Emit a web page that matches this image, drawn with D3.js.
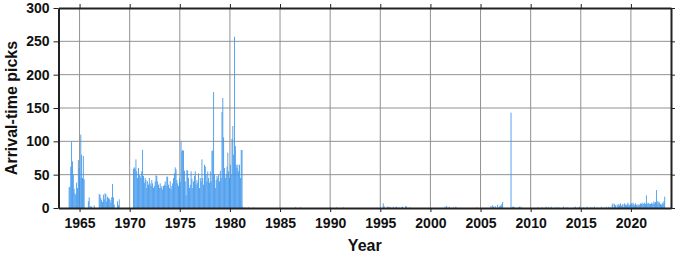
<!DOCTYPE html>
<html>
<head>
<meta charset="utf-8">
<script src="https://cdn.jsdelivr.net/npm/d3@7"></script>
<style>
  body { margin: 0; background: #fff; }
  text { font-family: "Liberation Sans", Arial, Helvetica, sans-serif; }
</style>
</head>
<body>
<div id="chart"></div>
<script>
// monthly arrival-time picks, one row of 12 months per year
var firstYear = 1963;

var picks1960s = [
    [0, 0, 0, 0, 0, 0, 0, 0, 0, 0, 0, 31],            // 1963
    [32, 62, 100, 70, 50, 29, 22, 20, 38, 30, 72, 60], // 1964
    [45, 110, 80, 45, 78, 43, 0, 0, 0, 0, 10, 16],    // 1965
    [0, 3, 2, 0, 0, 4, 0, 0, 0, 0, 0, 21],            // 1966
    [20, 15, 12, 9, 20, 13, 22, 21, 10, 17, 15, 14],  // 1967
    [12, 8, 16, 36, 16, 5, 0, 0, 0, 10, 4, 13],       // 1968
    [0, 0, 0, 0, 0, 0, 0, 0, 0, 0, 0, 0]              // 1969
];

var picks1970s = [
    [0, 0, 0, 0, 59, 61, 59, 73, 55, 45, 60, 50],      // 1970
    [48, 45, 55, 87, 48, 38, 45, 42, 30, 40, 35, 45],  // 1971
    [37, 33, 42, 37, 30, 33, 40, 49, 48, 40, 35, 30],  // 1972
    [37, 30, 33, 28, 33, 35, 40, 33, 47, 47, 35, 30],  // 1973
    [40, 28, 33, 37, 45, 52, 61, 58, 42, 37, 33, 45],  // 1974
    [39, 100, 85, 87, 86, 56, 40, 19, 57, 56, 45, 30], // 1975
    [35, 55, 44, 30, 40, 48, 55, 35, 42, 38, 52, 30],  // 1976
    [45, 40, 73, 45, 35, 65, 62, 50, 40, 55, 45, 38],  // 1977
    [55, 40, 86, 86, 174, 50, 30, 42, 48, 45, 50, 40], // 1978
    [56, 45, 144, 165, 106, 60, 45, 50, 62, 83, 55, 45] // 1979
];

var picks1980s = [
    [65, 50, 104, 123, 80, 257, 93, 65, 60, 65, 55, 65], // 1980
    [45, 87, 87, 2, 0, 0, 1, 0, 0, 0, 1, 0],   // 1981
    [0, 0, 0, 0, 1, 0, 0, 0, 0, 0, 0, 0],      // 1982
    [0, 0, 0, 0, 0, 0, 0, 0, 0, 0, 0, 0],      // 1983
    [0, 0, 0, 0, 0, 0, 0, 0, 0, 0, 0, 0],      // 1984
    [0, 0, 0, 0, 0, 0, 0, 0, 0, 0, 0, 0],      // 1985
    [0, 0, 0, 0, 0, 0, 1, 0, 0, 0, 0, 0],      // 1986
    [1, 0, 0, 0, 0, 0, 0, 0, 0, 0, 0, 0],      // 1987
    [0, 0, 0, 0, 0, 0, 0, 0, 0, 0, 0, 0],      // 1988
    [0, 0, 0, 0, 0, 0, 0, 0, 0, 0, 0, 0]       // 1989
];

var picks1990s = [
    [1, 0, 0, 0, 0, 0, 0, 1, 0, 0, 0, 0],      // 1990
    [0, 0, 0, 1, 0, 0, 0, 0, 0, 0, 0, 0],      // 1991
    [0, 0, 0, 0, 0, 0, 0, 0, 0, 0, 0, 0],      // 1992
    [0, 0, 0, 0, 0, 0, 0, 0, 0, 0, 0, 0],      // 1993
    [0, 0, 0, 0, 0, 0, 0, 0, 0, 0, 0, 0],      // 1994
    [0, 0, 0, 7, 3, 0, 0, 0, 2, 1, 2, 0],      // 1995
    [1, 0, 0, 2, 0, 0, 1, 2, 0, 0, 1, 0],      // 1996
    [0, 1, 2, 0, 0, 0, 3, 2, 0, 0, 0, 1],      // 1997
    [0, 0, 0, 0, 0, 0, 0, 0, 0, 0, 0, 0],      // 1998
    [0, 0, 0, 0, 0, 0, 0, 0, 0, 0, 0, 0]       // 1999
];

var picks2000s = [
    [0, 0, 0, 0, 0, 0, 0, 0, 0, 0, 0, 0],      // 2000
    [0, 0, 0, 0, 0, 2, 0, 3, 0, 0, 2, 0],      // 2001
    [0, 0, 0, 1, 0, 0, 2, 0, 0, 0, 0, 0],      // 2002
    [0, 0, 0, 0, 0, 0, 0, 0, 0, 0, 0, 0],      // 2003
    [0, 0, 0, 0, 0, 0, 0, 1, 0, 0, 0, 0],      // 2004
    [0, 0, 0, 0, 0, 0, 0, 0, 0, 0, 0, 0],      // 2005
    [3, 0, 4, 2, 0, 3, 0, 0, 5, 0, 2, 4],      // 2006
    [3, 6, 9, 0, 0, 0, 0, 0, 0, 0, 0, 0],      // 2007
    [143, 0, 2, 2, 1, 0, 0, 0, 0, 1, 2, 0],    // 2008
    [2, 0, 0, 0, 0, 0, 0, 0, 0, 0, 0, 0]       // 2009
];

var picks2010s = [
    [0, 0, 0, 0, 0, 0, 0, 0, 1, 0, 0, 0],      // 2010
    [0, 1, 0, 0, 0, 0, 2, 0, 0, 1, 0, 0],      // 2011
    [2, 0, 0, 0, 0, 0, 1, 0, 0, 1, 0, 0],      // 2012
    [0, 0, 0, 2, 0, 0, 0, 1, 0, 0, 0, 0],      // 2013
    [0, 0, 0, 1, 0, 2, 0, 0, 1, 0, 2, 0],      // 2014
    [0, 0, 0, 1, 0, 0, 0, 2, 0, 0, 0, 1],      // 2015
    [0, 1, 0, 0, 2, 0, 0, 0, 1, 0, 0, 0],      // 2016
    [2, 0, 0, 1, 0, 0, 2, 0, 0, 2, 0, 1],      // 2017
    [0, 5, 7, 0, 6, 4, 0, 5, 3, 6, 4, 7],      // 2018
    [3, 5, 6, 2, 7, 5, 4, 6, 8, 5, 4, 6]       // 2019
];

var picks2020s = [
    [7, 5, 8, 6, 4, 7, 5, 3, 6, 4, 5, 7],      // 2020
    [6, 8, 5, 7, 8, 6, 19, 6, 8, 7, 6, 6],     // 2021
    [8, 7, 6, 10, 7, 9, 27, 10, 7, 10, 8, 6],  // 2022
    [5, 8, 6, 10, 17, 0, 0, 0, 0, 0, 0, 0]     // 2023
];

var yearTicks = [1965, 1970, 1975, 1980, 1985, 1990, 1995, 2000, 2005, 2010, 2015, 2020];
var countTicks = [0, 50, 100, 150, 200, 250, 300];

// flatten into month records
var rows = picks1960s.concat(picks1970s, picks1980s, picks1990s, picks2000s, picks2010s, picks2020s);
var monthly = [];
rows.forEach(function (row, i) {
    row.forEach(function (v, m) {
        if (v > 0) monthly.push({ t: firstYear + i + m / 12, v: v });
    });
});

var svgWidth = 677, svgHeight = 255;
var margin = { top: 8, right: 6, bottom: 47, left: 58.5 };
var chartWidth = svgWidth - margin.left - margin.right;
var chartHeight = svgHeight - margin.top - margin.bottom;

var svg = d3.select("#chart").append("svg")
    .attr("width", svgWidth)
    .attr("height", svgHeight);

var chartGroup = svg.append("g")
    .attr("transform", `translate(${margin.left}, ${margin.top})`);

var xScale = d3.scaleLinear().domain([1962.9, 2024]).range([0, chartWidth]);
var yScale = d3.scaleLinear().domain([0, 300]).range([chartHeight, 0]);

// grid
chartGroup.append("g").selectAll("line")
    .data(yearTicks).enter().append("line")
    .attr("x1", d => xScale(d)).attr("x2", d => xScale(d))
    .attr("y1", 0).attr("y2", chartHeight)
    .attr("stroke", "#929292").attr("stroke-width", 1);
chartGroup.append("g").selectAll("line")
    .data(countTicks.slice(1, -1)).enter().append("line")
    .attr("x1", 0).attr("x2", chartWidth)
    .attr("y1", d => yScale(d)).attr("y2", d => yScale(d))
    .attr("stroke", "#929292").attr("stroke-width", 1);

// bars
var monthW = xScale(1 / 12) - xScale(0);
chartGroup.append("g").selectAll("rect")
    .data(monthly).enter().append("rect")
    .attr("x", d => xScale(d.t))
    .attr("width", monthW)
    .attr("y", d => yScale(d.v))
    .attr("height", d => chartHeight - yScale(d.v))
    .attr("fill", "#3a94ec");

// axes
function styleAxis(g) {
    g.select(".domain").attr("stroke", "#222").attr("stroke-width", 2);
    g.selectAll(".tick line").attr("stroke", "#222").attr("stroke-width", 1);
    g.selectAll(".tick text")
        .attr("font-family", "Liberation Sans, Arial, sans-serif")
        .attr("font-size", 14).attr("font-weight", "bold").attr("fill", "#111");
}

chartGroup.append("g")
    .attr("transform", `translate(0, ${chartHeight})`)
    .call(d3.axisBottom(xScale).tickValues(yearTicks).tickFormat(d3.format("d"))
        .tickSize(4).tickSizeOuter(0).tickPadding(6))
    .call(styleAxis);

chartGroup.append("g")
    .call(d3.axisTop(xScale).tickValues(yearTicks).tickFormat("")
        .tickSize(4).tickSizeOuter(0))
    .call(styleAxis);

chartGroup.append("g")
    .call(d3.axisLeft(yScale).tickValues(countTicks).tickFormat(d3.format("d"))
        .tickSize(5).tickSizeOuter(0).tickPadding(4))
    .call(styleAxis);

chartGroup.append("g")
    .attr("transform", `translate(${chartWidth}, 0)`)
    .call(d3.axisRight(yScale).tickValues(countTicks).tickFormat("")
        .tickSize(4).tickSizeOuter(0))
    .call(styleAxis);

// axis titles
svg.append("text")
    .attr("x", margin.left + chartWidth / 2)
    .attr("y", 251)
    .attr("text-anchor", "middle")
    .attr("font-size", 16).attr("font-weight", "bold").attr("fill", "#111")
    .text("Year");

svg.append("text")
    .attr("transform", `translate(17, ${margin.top + chartHeight / 2}) rotate(-90)`)
    .attr("text-anchor", "middle")
    .attr("font-size", 16).attr("font-weight", "bold").attr("fill", "#111")
    .text("Arrival-time picks");
</script>
</body>
</html>
